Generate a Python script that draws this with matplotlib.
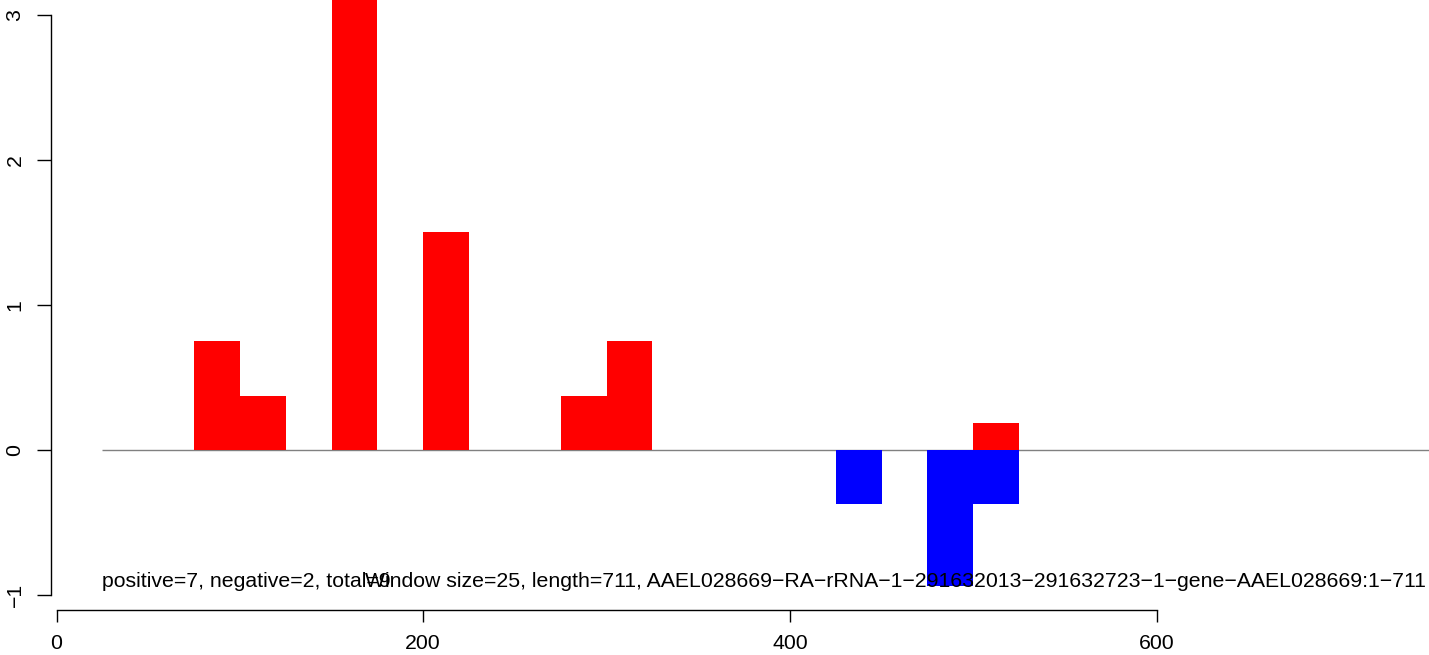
import matplotlib
matplotlib.use("Agg")
import matplotlib.pyplot as plt

plt.rcParams['font.family'] = ['Liberation Sans', 'DejaVu Sans']

# data
window = 25
pos_start = [75, 100, 150, 200, 275, 300, 500]
pos_vals = [0.75, 0.375, 3.375, 1.5, 0.375, 0.75, 0.1875]
neg_start = [425, 475, 500]
neg_vals = [-0.375, -0.9375, -0.375]
x_ticks = [0, 200, 400, 600]
y_ticks = [-1, 0, 1, 2, 3]
label_left = "positive=7, negative=2, total=9"
label_right = ("Window size=25, length=711, AAEL028669\u2212RA\u2212rRNA\u22121\u2212"
               "291632013\u2212291632723\u22121\u2212gene\u2212AAEL028669:1\u2212711")

FS = 15.3
W, H = 1429, 655
fig = plt.figure(figsize=(W / 100, H / 100), dpi=100)
ax = fig.add_axes([51 / W, (H - 610) / H, 1 - 51 / W, 610 / H])

ax.set_xlim(-3.0, 748.6)
ax.set_ylim(-1.103, 3.103)

ax.hlines(0, 25, 800, color='#808080', linewidth=1.0, zorder=1)
ax.bar(pos_start, pos_vals, width=window, align='edge', color='#FF0000',
       linewidth=0, zorder=2)
ax.bar(neg_start, neg_vals, width=window, align='edge', color='#0000FF',
       linewidth=0, zorder=2)

ax.text(25, -0.945, label_left, fontsize=FS, ha='left', va='baseline', zorder=3)
ax.text(168.3, -0.945, label_right, fontsize=FS, ha='left', va='baseline', zorder=3)

for s in ['top', 'right']:
    ax.spines[s].set_visible(False)
ax.spines['left'].set_bounds(-1, 3)
ax.spines['bottom'].set_bounds(0, 600)
ax.spines['left'].set_linewidth(1.0)
ax.spines['bottom'].set_linewidth(1.0)

ax.set_xticks(x_ticks)
ax.set_xticklabels([str(v) for v in x_ticks])
ax.set_yticks(y_ticks)
ax.set_yticklabels([str(v).replace('-', '\u2212') for v in y_ticks],
                   rotation=90, va='center')
ax.tick_params(axis='both', direction='out', width=1.0,
               labelsize=FS, color='black')
ax.tick_params(axis='x', length=8.6, pad=9)
ax.tick_params(axis='y', length=10, pad=9)

fig.savefig("out.png", dpi=100)
